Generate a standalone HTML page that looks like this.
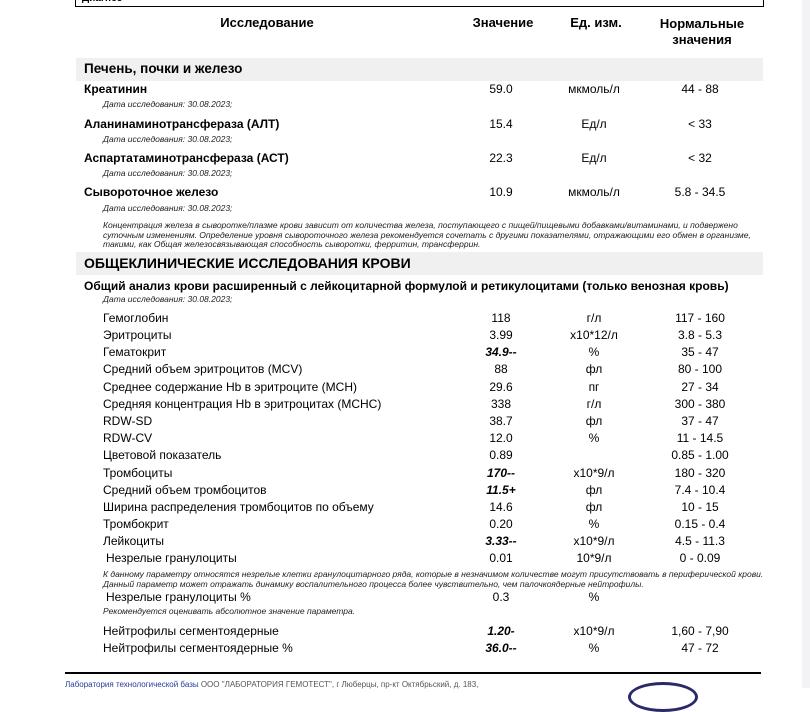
<!DOCTYPE html>
<html><head><meta charset="utf-8"><style>
body{margin:0;width:810px;height:688px;background:#fff;position:relative;overflow:hidden;font-family:"Liberation Sans",sans-serif;color:#000}
.t{position:absolute;white-space:nowrap;line-height:1;font-size:12px}
.c{transform:translateX(-50%)}
.b{font-weight:bold}
.d{font-size:8.5px;font-style:italic;color:#222;left:103px}
.n{font-size:8.5px;font-style:italic;color:#222;left:103px;line-height:9.5px;white-space:normal;width:662px}
.bi{font-weight:bold;font-style:italic}
.band{position:absolute;left:76px;width:687px;background:#f0f0f0}
</style></head><body>
<div style="position:absolute;right:0;top:0;width:8px;height:688px;background:#f3f3f5"></div>
<div style="position:absolute;left:75px;top:-10px;width:687px;height:16px;border:1.5px solid #000;border-top:none"></div>
<div class="t b" style="left:82px;top:-6px;font-size:10px">Диагноз</div>
<div class="t b c" style="left:267px;top:16px;font-size:13px">Исследование</div>
<div class="t b c" style="left:503px;top:16px;font-size:13px">Значение</div>
<div class="t b c" style="left:596px;top:16px;font-size:13px">Ед. изм.</div>
<div class="t b c" style="left:702px;top:16px;font-size:13px;text-align:center;line-height:16px">Нормальные<br>значения</div>
<div class="band" style="top:58px;height:23px"></div>
<div class="t b" style="left:84px;top:62px;font-size:13.5px">Печень, почки и железо</div>

<div class="t b" style="left:84px;top:83px">Креатинин</div>
<div class="t c" style="left:501px;top:83px">59.0</div><div class="t c" style="left:594px;top:83px">мкмоль/л</div><div class="t c" style="left:700px;top:83px">44 - 88</div>
<div class="t d" style="top:100px">Дата исследования: 30.08.2023;</div>

<div class="t b" style="left:84px;top:118px">Аланинаминотрансфераза (АЛТ)</div>
<div class="t c" style="left:501px;top:118px">15.4</div><div class="t c" style="left:594px;top:118px">Ед/л</div><div class="t c" style="left:700px;top:118px">&lt; 33</div>
<div class="t d" style="top:135px">Дата исследования: 30.08.2023;</div>

<div class="t b" style="left:84px;top:152px">Аспартатаминотрансфераза (АСТ)</div>
<div class="t c" style="left:501px;top:152px">22.3</div><div class="t c" style="left:594px;top:152px">Ед/л</div><div class="t c" style="left:700px;top:152px">&lt; 32</div>
<div class="t d" style="top:169px">Дата исследования: 30.08.2023;</div>

<div class="t b" style="left:84px;top:186px">Сывороточное железо</div>
<div class="t c" style="left:501px;top:186px">10.9</div><div class="t c" style="left:594px;top:186px">мкмоль/л</div><div class="t c" style="left:700px;top:186px">5.8 - 34.5</div>
<div class="t d" style="top:204px">Дата исследования: 30.08.2023;</div>
<div class="t n" style="top:221px">Концентрация железа в сыворотке/плазме крови зависит от количества железа, поступающего с пищей/пищевыми добавками/витаминами, и подвержено суточным изменениям. Определение уровня сывороточного железа рекомендуется сочетать с другими показателями, отражающими его обмен в организме, такими, как Общая железосвязывающая способность сыворотки, ферритин, трансферрин.</div>

<div class="band" style="top:252px;height:23px"></div>
<div class="t b" style="left:84px;top:256px;font-size:14px">ОБЩЕКЛИНИЧЕСКИЕ ИССЛЕДОВАНИЯ КРОВИ</div>
<div class="t b" style="left:84px;top:280px;font-size:12px">Общий анализ крови расширенный с лейкоцитарной формулой и ретикулоцитами (только венозная кровь)</div>
<div class="t d" style="top:295px">Дата исследования: 30.08.2023;</div>

<div class="t" style="left:103px;top:312px">Гемоглобин</div><div class="t c" style="left:501px;top:312px">118</div><div class="t c" style="left:594px;top:312px">г/л</div><div class="t c" style="left:700px;top:312px">117 - 160</div>
<div class="t" style="left:103px;top:329px">Эритроциты</div><div class="t c" style="left:501px;top:329px">3.99</div><div class="t c" style="left:594px;top:329px">x10*12/л</div><div class="t c" style="left:700px;top:329px">3.8 - 5.3</div>
<div class="t" style="left:103px;top:346px">Гематокрит</div><div class="t c bi" style="left:501px;top:346px">34.9--</div><div class="t c" style="left:594px;top:346px">%</div><div class="t c" style="left:700px;top:346px">35 - 47</div>
<div class="t" style="left:103px;top:363px">Средний объем эритроцитов (MCV)</div><div class="t c" style="left:501px;top:363px">88</div><div class="t c" style="left:594px;top:363px">фл</div><div class="t c" style="left:700px;top:363px">80 - 100</div>
<div class="t" style="left:103px;top:381px">Среднее содержание Hb в эритроците (MCH)</div><div class="t c" style="left:501px;top:381px">29.6</div><div class="t c" style="left:594px;top:381px">пг</div><div class="t c" style="left:700px;top:381px">27 - 34</div>
<div class="t" style="left:103px;top:398px">Средняя концентрация Hb в эритроцитах (MCHC)</div><div class="t c" style="left:501px;top:398px">338</div><div class="t c" style="left:594px;top:398px">г/л</div><div class="t c" style="left:700px;top:398px">300 - 380</div>
<div class="t" style="left:103px;top:415px">RDW-SD</div><div class="t c" style="left:501px;top:415px">38.7</div><div class="t c" style="left:594px;top:415px">фл</div><div class="t c" style="left:700px;top:415px">37 - 47</div>
<div class="t" style="left:103px;top:432px">RDW-CV</div><div class="t c" style="left:501px;top:432px">12.0</div><div class="t c" style="left:594px;top:432px">%</div><div class="t c" style="left:700px;top:432px">11 - 14.5</div>
<div class="t" style="left:103px;top:449px">Цветовой показатель</div><div class="t c" style="left:501px;top:449px">0.89</div><div class="t c" style="left:700px;top:449px">0.85 - 1.00</div>
<div class="t" style="left:103px;top:467px">Тромбоциты</div><div class="t c bi" style="left:501px;top:467px">170--</div><div class="t c" style="left:594px;top:467px">x10*9/л</div><div class="t c" style="left:700px;top:467px">180 - 320</div>
<div class="t" style="left:103px;top:484px">Средний объем тромбоцитов</div><div class="t c bi" style="left:501px;top:484px">11.5+</div><div class="t c" style="left:594px;top:484px">фл</div><div class="t c" style="left:700px;top:484px">7.4 - 10.4</div>
<div class="t" style="left:103px;top:501px">Ширина распределения тромбоцитов по объему</div><div class="t c" style="left:501px;top:501px">14.6</div><div class="t c" style="left:594px;top:501px">фл</div><div class="t c" style="left:700px;top:501px">10 - 15</div>
<div class="t" style="left:103px;top:518px">Тромбокрит</div><div class="t c" style="left:501px;top:518px">0.20</div><div class="t c" style="left:594px;top:518px">%</div><div class="t c" style="left:700px;top:518px">0.15 - 0.4</div>
<div class="t" style="left:103px;top:535px">Лейкоциты</div><div class="t c bi" style="left:501px;top:535px">3.33--</div><div class="t c" style="left:594px;top:535px">x10*9/л</div><div class="t c" style="left:700px;top:535px">4.5 - 11.3</div>
<div class="t" style="left:106px;top:552px">Незрелые гранулоциты</div><div class="t c" style="left:501px;top:552px">0.01</div><div class="t c" style="left:594px;top:552px">10*9/л</div><div class="t c" style="left:700px;top:552px">0 - 0.09</div>
<div class="t n" style="top:570px">К данному параметру относятся незрелые клетки гранулоцитарного ряда, которые  в незначимом количестве могут присутствовать в периферической крови. Данный параметр может отражать динамику воспалительного процесса более чувствительно, чем палочкоядерные нейтрофилы.</div>
<div class="t" style="left:106px;top:591px">Незрелые гранулоциты %</div><div class="t c" style="left:501px;top:591px">0.3</div><div class="t c" style="left:594px;top:591px">%</div>
<div class="t d" style="top:607px">Рекомендуется оценивать абсолютное значение параметра.</div>
<div class="t" style="left:103px;top:625px">Нейтрофилы сегментоядерные</div><div class="t c bi" style="left:501px;top:625px">1.20-</div><div class="t c" style="left:594px;top:625px">x10*9/л</div><div class="t c" style="left:700px;top:625px">1,60 - 7,90</div>
<div class="t" style="left:103px;top:642px">Нейтрофилы сегментоядерные %</div><div class="t c bi" style="left:501px;top:642px">36.0--</div><div class="t c" style="left:594px;top:642px">%</div><div class="t c" style="left:700px;top:642px">47 - 72</div>

<div style="position:absolute;left:65px;top:672px;width:696px;height:2px;background:#000"></div>
<div class="t" style="left:65px;top:681px;font-size:8px;color:#555"><span style="color:#2a3a9a">Лаборатория технологической базы</span> ООО "ЛАБОРАТОРИЯ ГЕМОТЕСТ", г Люберцы, пр-кт Октябрьский, д. 183,</div>
<div style="position:absolute;left:628px;top:682px;width:70px;height:30px;border:3px solid #2a2a6a;border-radius:50%;box-sizing:border-box"></div>
</body></html>
